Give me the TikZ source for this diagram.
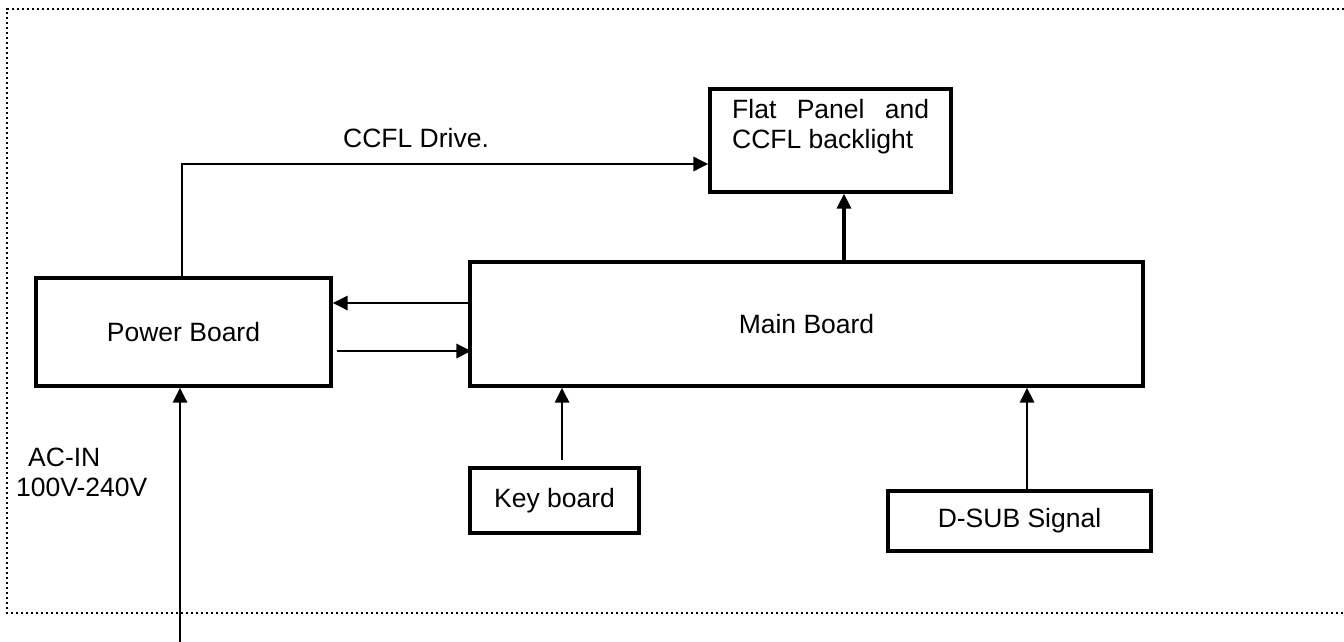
\documentclass[tikz,border=0pt]{standalone}
\usepackage{fontspec}
\setmainfont{Liberation Sans}
\usetikzlibrary{arrows.meta,calc}
\begin{document}
\begin{tikzpicture}[x=1pt,y=-1pt,
  font=\fontsize{26.5}{30}\selectfont,
  box/.style={draw, line width=3.2pt, inner sep=0pt},
  lbl/.style={inner sep=0pt},
  conn/.style={line width=2.9pt, -{Triangle[length=15pt,width=14pt]}},
  border/.style={line width=2.6pt, dash pattern=on 2.4pt off 2.6pt}]
\useasboundingbox (0,0) rectangle (1344,642);
% dotted frame
\draw[border] (1344,9) -- (7,9) -- (7,613) -- (1344,613);
% boxes
\node[box, minimum width=295pt, minimum height=108pt] (power) at (183.5,332) {Power Board};
\node[box, minimum width=673pt, minimum height=124pt] (main) at (806.5,324) {Main Board};
\node[box, minimum width=241pt, minimum height=103pt] (flat) at (830.5,140.5) {};
\node[box, minimum width=169pt, minimum height=65pt] (key) at (554.5,500.5) {Key board};
\node[box, minimum width=263pt, minimum height=60pt] (dsub) at (1019.5,521) {D-SUB Signal};
% texts
\node[lbl, anchor=base west] (flat1) at (732,118) {\makebox[197pt][s]{Flat Panel and}};
\node[lbl, anchor=base west] (flat2) at (732,148) {CCFL backlight};
\node[lbl, anchor=base west] (ccfllbl) at (343,147) {CCFL Drive.};
\node[lbl, anchor=base west] (acin1) at (28,466) {AC-IN};
\node[lbl, anchor=base west] (acin2) at (16,496) {100V-240V};
% helper coordinates
\coordinate (yup) at (0,303);
\coordinate (ylow) at (0,351);
\coordinate (xflat) at (844,0);
\coordinate (xkey) at (562,0);
\coordinate (xdsub) at (1027,0);
\coordinate (ccfl) at (182,164);
\coordinate (acin) at (180,642);
% connectors
\draw[conn] (main.west |- yup) -- (power.east |- yup);
\draw[conn, shorten <=4pt, shorten >=-3pt] (power.east |- ylow) -- (main.west |- ylow);
\draw[conn, line width=3.4pt] (main.north -| xflat) -- (flat.south -| xflat);
\draw[conn, shorten <=6pt] (key.north -| xkey) -- (main.south -| xkey);
\draw[conn] (dsub.north -| xdsub) -- (main.south -| xdsub);
\draw[conn] (power.north -| ccfl) |- (flat.west |- ccfl);
\draw[conn] (acin) -- (power.south -| acin);
\end{tikzpicture}
\end{document}
